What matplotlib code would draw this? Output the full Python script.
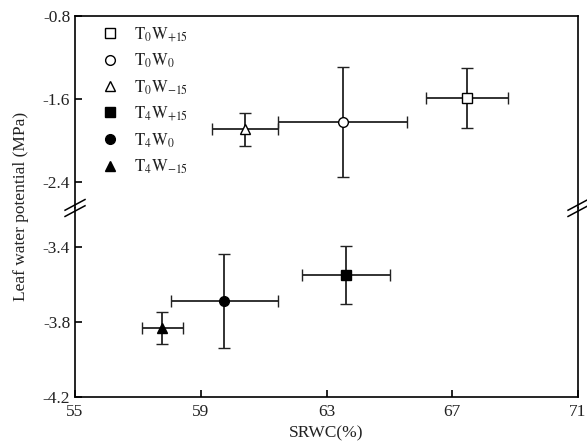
import matplotlib.pyplot as plt
from matplotlib.lines import Line2D

plt.rcParams['font.family'] = ['Liberation Serif', 'DejaVu Serif']
plt.rcParams['mathtext.fontset'] = 'stix'

# treatments, SRWC (%) and leaf water potential (MPa) with errors
labels = [r'$\mathrm{T_0W_{+15}}$', r'$\mathrm{T_0W_0}$', r'$\mathrm{T_0W_{-15}}$',
          r'$\mathrm{T_4W_{+15}}$', r'$\mathrm{T_4W_0}$', r'$\mathrm{T_4W_{-15}}$']
markers = ['s', 'o', '^', 's', 'o', '^']
filled = [False, False, False, True, True, True]
srwc = [67.47, 63.52, 60.41, 63.61, 59.75, 57.78]
srwc_err = [1.3, 2.05, 1.05, 1.4, 1.7, 0.66]
lwp = [-1.59, -1.82, -1.89, -3.55, -3.69, -3.83]
lwp_err = [0.29, 0.53, 0.16, 0.155, 0.25, 0.085]

xticks = [55, 59, 63, 67, 71]
yticks_top = [-0.8, -1.6, -2.4]
yticks_bot = [-3.4, -3.8, -4.2]

fig = plt.figure(figsize=(5.87, 4.45), dpi=100)
L, R = 0.1278, 0.9847
brk = 0.5326
top = 0.964
bot = 0.1079
ax1 = fig.add_axes([L, brk, R - L, top - brk])
ax2 = fig.add_axes([L, bot, R - L, brk - bot])

ax1.set_ylim(-2.65, -0.8)
ax2.set_ylim(-4.2, -3.192)
for ax in (ax1, ax2):
    ax.set_xlim(55, 71)
    for i in range(len(srwc)):
        ax.errorbar(srwc[i], lwp[i], xerr=srwc_err[i], yerr=lwp_err[i],
                    fmt=markers[i], color='#222222', ecolor='#222222',
                    elinewidth=1.3, capsize=4, capthick=1.3,
                    markersize=7 if markers[i] != 's' else 6.5,
                    markerfacecolor='black' if filled[i] else 'white',
                    markeredgecolor='black', markeredgewidth=1.0)
    ax.tick_params(direction='in', labelsize=12.5, length=5, width=1.2,
                   top=False, right=False, labelcolor='#222222')
    for s in ax.spines.values():
        s.set_linewidth(1.2)

ax1.spines['bottom'].set_visible(False)
ax2.spines['top'].set_visible(False)
ax1.set_xticks([])
ax1.set_yticks(yticks_top)
ax1.set_yticklabels(['-0.8', '-1.6', '-2.4'])
ax2.set_yticks(yticks_bot)
ax2.set_yticklabels(['-3.4', '-3.8', '-4.2'])
ax2.set_xticks(xticks)
ax2.tick_params(axis='x', pad=5)
ax2.set_xlabel('SRWC(%)', fontsize=12.5, labelpad=4, color='#222222')
fig.text(0.035, (top + bot) / 2, 'Leaf water potential (MPa)', rotation=90,
         ha='center', va='center', fontsize=12.5, color='#222222')

# break marks
for xf in (L, R):
    for dy in (-0.007, 0.007):
        fig.add_artist(Line2D([xf - 0.017, xf + 0.017],
                              [brk + dy - 0.012, brk + dy + 0.012],
                              color='black', lw=1.1))

handles = [Line2D([], [], marker=markers[i], linestyle='none', color='black',
                  markerfacecolor='black' if filled[i] else 'white',
                  markersize=7 if markers[i] != 's' else 6.5)
           for i in range(len(labels))]
ax1.legend(handles, labels, loc='upper left', bbox_to_anchor=(0.015, 1.03),
           frameon=False, fontsize=12, labelspacing=0.48, handletextpad=0.7,
           handlelength=1.5, labelcolor='#222222')

fig.savefig('out.png', dpi=100)
